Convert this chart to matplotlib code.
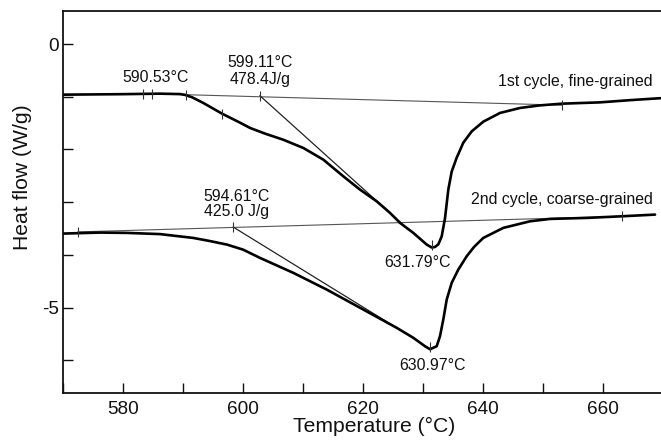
import matplotlib
matplotlib.use("Agg")
import matplotlib.pyplot as plt
from matplotlib.ticker import MultipleLocator, FuncFormatter

plt.rcParams['font.family'] = ['Liberation Sans', 'DejaVu Sans']

# ---- data ----
# 1st cycle, fine-grained
t1 = [570.0, 579.5, 586.17, 589.5, 590.33, 591.5, 593.38, 596.5, 599.5, 601.17,
      603.67, 606.72, 610.05, 613.38, 616.72, 619.5, 622.28, 624.5, 626.17, 628.38,
      630.62, 631.45, 632.0, 632.55, 633.12, 633.67, 634.22, 634.78, 635.62, 636.72,
      638.12, 640.05, 642.83, 646.17, 649.5, 653.12, 659.5, 664.5, 669.67]
hf1 = [-0.961, -0.952, -0.942, -0.950, -0.965, -1.010, -1.118, -1.321, -1.492, -1.592,
       -1.700, -1.816, -1.972, -2.193, -2.510, -2.762, -2.984, -3.204, -3.393, -3.583,
       -3.805, -3.860, -3.850, -3.800, -3.647, -3.300, -2.760, -2.420, -2.155, -1.871,
       -1.657, -1.473, -1.308, -1.213, -1.164, -1.132, -1.107, -1.065, -1.027]

# 2nd cycle, coarse-grained
t2 = [570.0, 576.17, 580.67, 586.17, 591.67, 594.5, 597.33, 600.0, 602.83, 608.38,
      613.95, 620.05, 625.62, 628.38, 630.33, 631.17, 632.28, 632.83, 633.38, 633.95,
      634.78, 635.88, 637.28, 638.5, 640.05, 643.38, 647.83, 651.17, 657.28, 663.12,
      668.67]
hf2 = [-3.596, -3.577, -3.583, -3.606, -3.678, -3.738, -3.805, -3.900, -4.057, -4.341,
       -4.658, -5.037, -5.384, -5.573, -5.733, -5.790, -5.733, -5.543, -5.227, -4.848,
       -4.531, -4.279, -4.026, -3.850, -3.678, -3.488, -3.363, -3.318, -3.299, -3.268,
       -3.236]

# baselines and onset tangents
base1_t = [583.33, 653.12]
base1_hf = [-0.939, -1.160]
tan1_t = [602.83, 626.17]
tan1_hf = [-0.982, -3.376]
base2_t = [572.5, 663.12]
base2_hf = [-3.564, -3.268]
tan2_t = [598.38, 625.62]
tan2_hf = [-3.473, -5.384]

# marker ticks on curves
mark1_t = [583.39, 584.88, 590.45, 596.55, 602.83, 631.45, 653.12]
mark1_hf = [-0.94, -0.94, -0.96, -1.33, -0.99, -3.82, -1.16]
mark2_t = [572.5, 598.38, 631.17, 663.12]
mark2_hf = [-3.56, -3.47, -5.74, -3.27]

# ---- figure ----
fig = plt.figure(figsize=(6.61, 4.41), dpi=100)
ax = fig.add_axes([63/661, 48/441, 599/661, 382/441])

ax.plot(base1_t, base1_hf, color='#555555', lw=0.8)
ax.plot(base2_t, base2_hf, color='#555555', lw=0.8)
ax.plot(tan1_t, tan1_hf, color='#222222', lw=0.9)
ax.plot(tan2_t, tan2_hf, color='#222222', lw=0.9)
ax.plot(t1, hf1, color='black', lw=1.9, solid_capstyle='round', solid_joinstyle='round')
ax.plot(t2, hf2, color='black', lw=1.9, solid_capstyle='round', solid_joinstyle='round')
ax.plot(mark1_t, mark1_hf, ls='none', marker='|', ms=7, mew=0.8, color='#333333')
ax.plot(mark2_t, mark2_hf, ls='none', marker='|', ms=7, mew=0.8, color='#333333')

fs = 11.4
ax.text(585.5, -0.639, '590.53°C', ha='center', va='center', fontsize=fs, color='#111111')
ax.text(602.92, -0.360, '599.11°C', ha='center', va='center', fontsize=fs, color='#111111')
ax.text(602.92, -0.664, '478.4J/g', ha='center', va='center', fontsize=fs, color='#111111')
ax.text(599.0, -2.889, '594.61°C', ha='center', va='center', fontsize=fs, color='#111111')
ax.text(599.0, -3.173, '425.0 J/g', ha='center', va='center', fontsize=fs, color='#111111')
ax.text(629.0, -4.152, '631.79°C', ha='center', va='center', fontsize=fs, color='#111111')
ax.text(631.5, -6.093, '630.97°C', ha='center', va='center', fontsize=fs, color='#111111')
ax.text(668.28, -0.709, '1st cycle, fine-grained', ha='right', va='center', fontsize=fs, color='#111111')
ax.text(668.28, -2.952, '2nd cycle, coarse-grained', ha='right', va='center', fontsize=fs, color='#111111')

ax.set_xlim(570, 669.83)
ax.set_ylim(-6.62, 0.626)

ax.xaxis.set_major_locator(MultipleLocator(10))
ax.yaxis.set_major_locator(MultipleLocator(1))
ax.xaxis.set_major_formatter(FuncFormatter(lambda v, p: f"{int(round(v))}" if round(v) % 20 == 0 else ""))
ax.yaxis.set_major_formatter(FuncFormatter(lambda v, p: f"{int(round(v))}" if round(v) % 5 == 0 else ""))
ax.tick_params(direction='in', length=7, width=1.0, labelsize=13.7, colors='#111111')
ax.tick_params(axis='x', pad=6)
ax.tick_params(axis='y', pad=3)
for s in ax.spines.values():
    s.set_linewidth(1.3)
    s.set_color('#111111')

ax.set_xlabel('Temperature (°C)', fontsize=15.2, color='#111111')
ax.set_ylabel('Heat flow (W/g)', fontsize=15.2, color='#111111')
ax.xaxis.set_label_coords((374 - 63) / 599, -0.062)
ax.yaxis.set_label_coords(-0.052, 0.564)

fig.savefig('out.png', dpi=100)
